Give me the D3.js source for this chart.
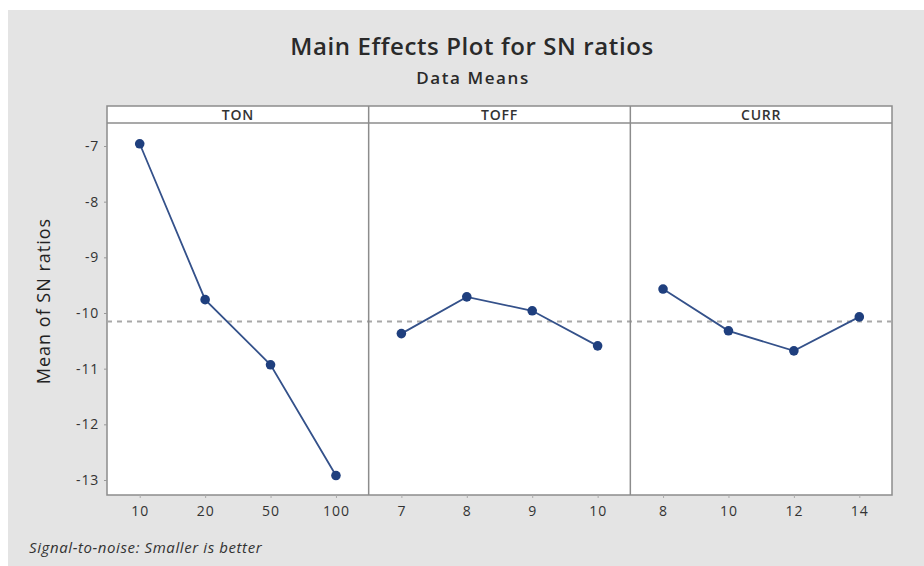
<!DOCTYPE html>
<html>
  <head>
    <meta charset="UTF-8" />
    <script src="https://cdn.jsdelivr.net/npm/d3@7"></script>
    <style>
      body { margin: 0; background: #fff; }
    </style>
  </head>
  <body>
    <svg></svg>
    <script>
      // data
      const factors = ['TON', 'TOFF', 'CURR']
      const tonLevels = ['10', '20', '50', '100']
      const tonMeans = [-6.96, -9.76, -10.93, -12.92]
      const toffLevels = ['7', '8', '9', '10']
      const toffMeans = [-10.37, -9.71, -9.96, -10.59]
      const currLevels = ['8', '10', '12', '14']
      const currMeans = [-9.57, -10.32, -10.68, -10.07]
      const yTicks = [-7, -8, -9, -10, -11, -12, -13]

      const panels = [
        { name: factors[0], levels: tonLevels, values: tonMeans },
        { name: factors[1], levels: toffLevels, values: toffMeans },
        { name: factors[2], levels: currLevels, values: currMeans },
      ]
      const grandMean = d3.mean(panels.flatMap((p) => p.values))

      const width = 924
      const height = 566
      const plot = { left: 107, right: 892, top: 123, bottom: 495 }
      const stripH = 17
      const font = '"Open Sans", "DejaVu Sans", sans-serif'

      const svg = d3
        .select('svg')
        .attr('width', width)
        .attr('height', height)
        .style('font-family', font)

      // background
      svg.append('rect')
        .attr('x', 8).attr('y', 10)
        .attr('width', width - 8).attr('height', height - 10)
        .attr('fill', '#e4e4e4')

      // titles
      svg.append('text')
        .attr('x', 472).attr('y', 55)
        .attr('text-anchor', 'middle')
        .attr('font-size', 24)
        .attr('font-weight', 600)
        .attr('letter-spacing', 0.6)
        .attr('fill', '#2a2a2a')
        .text('Main Effects Plot for SN ratios')
      svg.append('text')
        .attr('x', 473).attr('y', 84)
        .attr('text-anchor', 'middle')
        .attr('font-size', 17)
        .attr('font-weight', 600)
        .attr('letter-spacing', 1.6)
        .attr('fill', '#2a2a2a')
        .text('Data Means')

      const y = d3.scaleLinear().domain([-7, -13]).range([146, 480])
      const panelX = d3.scaleBand().domain(factors).range([plot.left, plot.right])

      // plot area
      svg.append('rect')
        .attr('x', plot.left).attr('y', plot.top - stripH)
        .attr('width', plot.right - plot.left)
        .attr('height', plot.bottom - plot.top + stripH)
        .attr('fill', '#fff')
        .attr('stroke', '#8c8c8c')
        .attr('stroke-width', 1.5)

      // y axis
      const yAxis = svg.append('g')
        .attr('transform', `translate(${plot.left},0)`)
        .call(d3.axisLeft(y).tickValues(yTicks).tickSize(3).tickPadding(5).tickFormat(d3.format('d')))
      yAxis.select('.domain').remove()
      yAxis.selectAll('line').attr('stroke', '#999')
      yAxis.selectAll('text')
        .attr('font-size', 14).attr('fill', '#333')
        .attr('letter-spacing', 0.8)
        .attr('font-family', font)
        .text((d) => String(d).replace('−', '-'))

      svg.append('text')
        .attr('transform', `translate(50,${(plot.top + plot.bottom) / 2 - 8}) rotate(-90)`)
        .attr('text-anchor', 'middle')
        .attr('font-size', 18)
        .attr('letter-spacing', 1)
        .attr('fill', '#222')
        .text('Mean of SN ratios')

      // grand mean line
      svg.append('line')
        .attr('x1', plot.left).attr('x2', plot.right)
        .attr('y1', y(grandMean)).attr('y2', y(grandMean))
        .attr('stroke', '#a8a8a8')
        .attr('stroke-width', 2)
        .attr('stroke-dasharray', '5,5')

      panels.forEach((p, i) => {
        const x0 = panelX(p.name)
        const x1 = x0 + panelX.bandwidth()
        const x = d3.scalePoint().domain(p.levels).range([x0, x1]).padding(0.5)
        const g = svg.append('g')

        // strip
        g.append('line')
          .attr('x1', x0).attr('x2', x1)
          .attr('y1', plot.top).attr('y2', plot.top)
          .attr('stroke', '#8c8c8c').attr('stroke-width', 1.5)
        g.append('text')
          .attr('x', (x0 + x1) / 2).attr('y', plot.top - 3)
          .attr('text-anchor', 'middle')
          .attr('font-size', 14).attr('font-weight', 600)
          .attr('letter-spacing', 0.8)
          .attr('fill', '#333')
          .text(p.name)
        if (i > 0) {
          g.append('line')
            .attr('x1', x0).attr('x2', x0)
            .attr('y1', plot.top - stripH).attr('y2', plot.bottom)
            .attr('stroke', '#8c8c8c').attr('stroke-width', 1.5)
        }

        // x axis
        const xa = g.append('g')
          .attr('transform', `translate(0,${plot.bottom})`)
          .call(d3.axisBottom(x).tickSize(3).tickPadding(8))
        xa.select('.domain').remove()
        xa.selectAll('line').attr('stroke', '#aaa')
        xa.selectAll('text')
          .attr('font-size', 14).attr('fill', '#333')
          .attr('letter-spacing', 1)
          .attr('font-family', font)

        const pts = p.levels.map((l, j) => [x(l), y(p.values[j])])
        g.append('path')
          .attr('d', d3.line()(pts))
          .attr('fill', 'none')
          .attr('stroke', '#34518a')
          .attr('stroke-width', 1.8)
        g.selectAll('circle')
          .data(pts)
          .join('circle')
          .attr('cx', (d) => d[0]).attr('cy', (d) => d[1])
          .attr('r', 4.8)
          .attr('fill', '#1f3f7e')
      })

      // footnote
      svg.append('text')
        .attr('x', 29).attr('y', 553)
        .attr('font-size', 15)
        .attr('font-style', 'italic')
        .attr('letter-spacing', 0.6)
        .attr('fill', '#333')
        .text('Signal-to-noise: Smaller is better')
    </script>
  </body>
</html>
